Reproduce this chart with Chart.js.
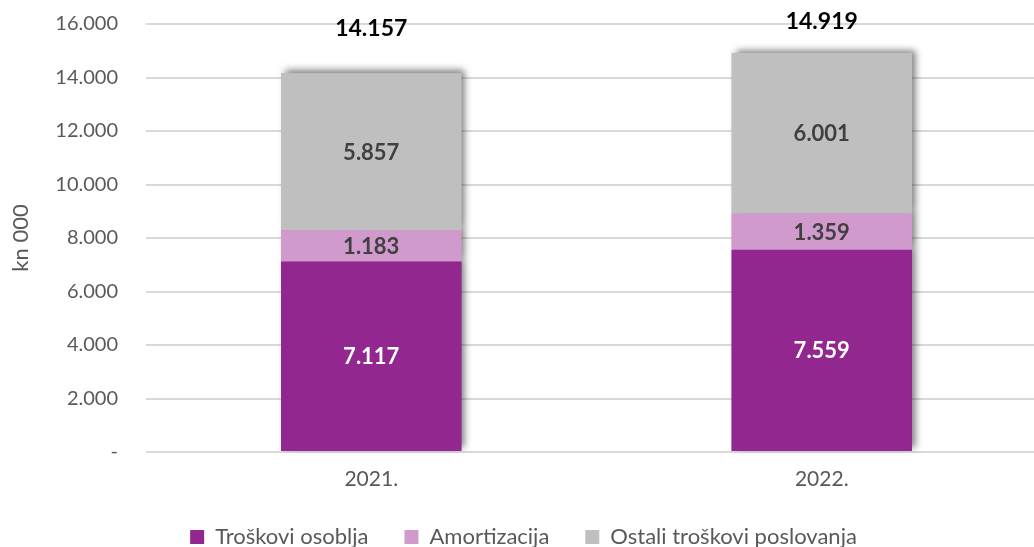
<!DOCTYPE html>
<html>
<head>
<meta charset="utf-8">
<script src="https://cdn.jsdelivr.net/npm/chart.js"></script>
<style>
  html, body { margin: 0; padding: 0; background: #fff; overflow: hidden; }
  #wrap { width: 1060px; height: 547px; }
</style>
</head>
<body>
<div id="wrap"><canvas id="chart" width="1060" height="547"></canvas></div>
<script>
// data
const years = ["2021.", "2022."];
const seriesNames = ["Troškovi osoblja", "Amortizacija", "Ostali troškovi poslovanja"];
const osoblje = [7117, 7559];
const amortizacija = [1183, 1359];
const ostali = [5857, 6001];
const totals = [14157, 14919];
const yTicks = [0, 2000, 4000, 6000, 8000, 10000, 12000, 14000, 16000];

const colors = ["#92278F", "#D19ACC", "#BFBFBF"];
const labelColors = ["#FFFFFF", "#404040", "#404040"];
const FONT = "Lato, 'Open Sans', sans-serif";

function fmt(v) {
  if (v === 0) return "-";
  return v.toString().replace(/\B(?=(\d{3})+(?!\d))/g, ".");
}

// 🔹 shadow behind the bars
const barShadow = {
  id: "barShadow",
  beforeDatasetsDraw(chart) {
    const ctx = chart.ctx;
    ctx.save();
    ctx.shadowColor = "rgba(0,0,0,0.5)";
    ctx.shadowBlur = 7;
    ctx.shadowOffsetX = 4;
    ctx.shadowOffsetY = -3;
    chart.data.datasets.forEach((ds, i) => {
      chart.getDatasetMeta(i).data.forEach(bar => {
        const w = bar.width;
        ctx.fillStyle = ds.backgroundColor;
        ctx.fillRect(bar.x - w / 2, Math.min(bar.y, bar.base), w, Math.abs(bar.base - bar.y));
      });
    });
    ctx.restore();
  }
};

// 🔹 value labels + totals
const valueLabels = {
  id: "valueLabels",
  afterDatasetsDraw(chart) {
    const ctx = chart.ctx;
    ctx.save();
    ctx.textAlign = "center";
    ctx.textBaseline = "middle";
    ctx.font = "bold 22px " + FONT;
    chart.data.datasets.forEach((ds, i) => {
      chart.getDatasetMeta(i).data.forEach((bar, j) => {
        ctx.fillStyle = labelColors[i];
        ctx.fillText(fmt(ds.data[j]), bar.x, (bar.y + bar.base) / 2 + 1);
      });
    });
    const y = chart.scales.y;
    const topMeta = chart.getDatasetMeta(chart.data.datasets.length - 1);
    ctx.font = "bold 23px " + FONT;
    ctx.fillStyle = "#000";
    totals.forEach((t, j) => {
      const bar = topMeta.data[j];
      const ty = Math.max(y.top - 2, y.getPixelForValue(t) - 45);
      ctx.fillText(fmt(t), bar.x, ty);
    });
    ctx.restore();
  }
};

const data = {
  labels: years,
  datasets: [
    { label: seriesNames[0], data: osoblje, backgroundColor: colors[0] },
    { label: seriesNames[1], data: amortizacija, backgroundColor: colors[1] },
    { label: seriesNames[2], data: ostali, backgroundColor: colors[2] }
  ]
};

new Chart(document.getElementById("chart"), {
  type: "bar",
  data: data,
  plugins: [barShadow, valueLabels],
  options: {
    responsive: false,
    animation: false,
    layout: { padding: { top: 24, right: 13, left: 0, bottom: 0 } },
    datasets: { bar: { categoryPercentage: 1, barPercentage: 0.4 } },
    plugins: {
      tooltip: { enabled: false },
      legend: {
        position: "bottom",
        maxHeight: 57,
        labels: {
          boxWidth: 14, boxHeight: 14, padding: 36,
          color: "#595959",
          font: { family: FONT, size: 22 }
        }
      }
    },
    scales: {
      x: {
        stacked: true,
        afterFit: s => { s.height = 38; s.paddingTop = 0; s.paddingBottom = 0; },
        grid: { display: false, drawTicks: false, tickLength: 0 },
        border: { display: false },
        ticks: { color: "#595959", font: { family: FONT, size: 21 }, padding: 15 }
      },
      y: {
        stacked: true,
        min: 0, max: 16000,
        afterBuildTicks: s => { s.ticks = yTicks.map(v => ({ value: v })); },
        afterFit: s => { s.width = 146; s.paddingTop = 0; s.paddingBottom = 0; },
        grid: { color: "#D9D9D9", lineWidth: 2, drawTicks: false },
        border: { display: false },
        ticks: {
          color: "#595959", padding: 28,
          font: { family: FONT, size: 20 },
          callback: v => fmt(v)
        },
        title: {
          display: true, text: "kn 000", color: "#595959",
          font: { family: FONT, size: 22 }, padding: { top: 8, bottom: 0 }
        }
      }
    }
  }
});
</script>
</body>
</html>
